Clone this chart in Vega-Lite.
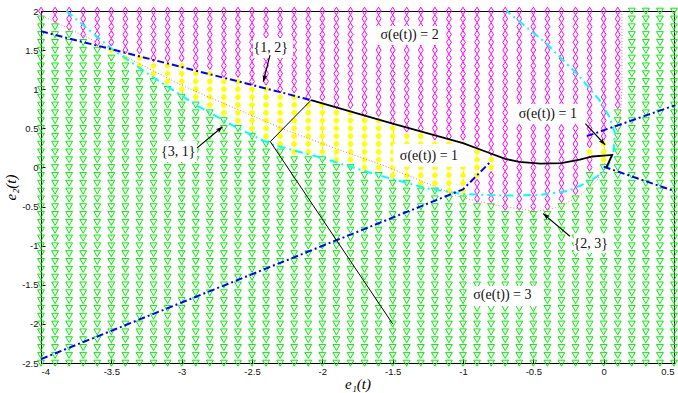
{
  "$schema": "https://vega.github.io/schema/vega-lite/v6.json",
  "width": 633,
  "height": 352,
  "autosize": {"type": "none"},
  "padding": {"left": 41, "top": 11, "right": 4, "bottom": 30},
  "background": "white",
  "config": {
    "view": {"stroke": "black", "strokeWidth": 1},
    "axis": {
      "domainColor": "black",
      "tickColor": "black",
      "tickSize": -4,
      "labelPadding": 7,
      "labelColor": "#111111",
      "labelFont": "Liberation Sans",
      "labelFontSize": 9.5,
      "labelOverlap": false,
      "labelExpr": "'' + datum.value",
      "grid": true,
      "gridColor": "#a0a0a0",
      "gridDash": [1, 3],
      "gridWidth": 1,
      "titleFont": "Liberation Serif",
      "titleFontSize": 15,
      "titleFontWeight": "normal",
      "titleFontStyle": "italic",
      "titleColor": "black"
    },
    "axisX": {"titleY": 25, "titleBaseline": "alphabetic"},
    "axisY": {"titlePadding": 3}
  },
  "datasets": {
    "mesh": [
      {"x": -4, "c": ["g","g","g","g","g","g","g","g","g","g", "g","g","g","g","g","g","g","g","g","g", "g","g","g","g","g","g","g","g","g","g", "g","g","g","g","g","g","g","g","g","g", "g","g","g","g","g", "m"]},
      {"x": -3.9, "c": ["g","g","g","g","g","g","g","g","g","g", "g","g","g","g","g","g","g","g","g","g", "g","g","g","g","g","g","g","g","g","g", "g","g","g","g","g","g","g","g","g","g", "g","g","g","g", "m","m"]},
      {"x": -3.8, "c": ["g","g","g","g","g","g","g","g","g","g", "g","g","g","g","g","g","g","g","g","g", "g","g","g","g","g","g","g","g","g","g", "g","g","g","g","g","g","g","g","g","g", "g","g","g", "m","m","m"]},
      {"x": -3.7, "c": ["g","g","g","g","g","g","g","g","g","g", "g","g","g","g","g","g","g","g","g","g", "g","g","g","g","g","g","g","g","g","g", "g","g","g","g","g","g","g","g","g","g", "g","g", "m","m","m","m"]},
      {"x": -3.6, "c": ["g","g","g","g","g","g","g","g","g","g", "g","g","g","g","g","g","g","g","g","g", "g","g","g","g","g","g","g","g","g","g", "g","g","g","g","g","g","g","g","g","g", "g", "m","m","m","m","m"]},
      {"x": -3.5, "c": ["g","g","g","g","g","g","g","g","g","g", "g","g","g","g","g","g","g","g","g","g", "g","g","g","g","g","g","g","g","g","g", "g","g","g","g","g","g","g","g","g","g", "y", "m","m","m","m","m"]},
      {"x": -3.4, "c": ["g","g","g","g","g","g","g","g","g","g", "g","g","g","g","g","g","g","g","g","g", "g","g","g","g","g","g","g","g","g","g", "g","g","g","g","g","g","g","g","g", "y", "m","m","m","m","m","m"]},
      {"x": -3.3, "c": ["g","g","g","g","g","g","g","g","g","g", "g","g","g","g","g","g","g","g","g","g", "g","g","g","g","g","g","g","g","g","g", "g","g","g","g","g","g","g","g", "y","y", "m","m","m","m","m","m"]},
      {"x": -3.2, "c": ["g","g","g","g","g","g","g","g","g","g", "g","g","g","g","g","g","g","g","g","g", "g","g","g","g","g","g","g","g","g","g", "g","g","g","g","g","g","g", "y","y", "m","m","m","m","m","m","m"]},
      {"x": -3.1, "c": ["g","g","g","g","g","g","g","g","g","g", "g","g","g","g","g","g","g","g","g","g", "g","g","g","g","g","g","g","g","g","g", "g","g","g","g","g","g", "y","y","y", "m","m","m","m","m","m","m"]},
      {"x": -3.0, "c": ["g","g","g","g","g","g","g","g","g","g", "g","g","g","g","g","g","g","g","g","g", "g","g","g","g","g","g","g","g","g","g", "g","g","g","g","g", "y","y","y","y", "m","m","m","m","m","m","m"]},
      {"x": -2.9, "c": ["g","g","g","g","g","g","g","g","g","g", "g","g","g","g","g","g","g","g","g","g", "g","g","g","g","g","g","g","g","g","g", "g","g","g","g", "y","y","y","y", "m","m","m","m","m","m","m","m"]},
      {"x": -2.8, "c": ["g","g","g","g","g","g","g","g","g","g", "g","g","g","g","g","g","g","g","g","g", "g","g","g","g","g","g","g","g","g","g", "g","g","g", "y","y","y","y","y", "m","m","m","m","m","m","m","m"]},
      {"x": -2.7, "c": ["g","g","g","g","g","g","g","g","g","g", "g","g","g","g","g","g","g","g","g","g", "g","g","g","g","g","g","g","g","g","g", "g","g", "y","y","y","y","y", "m","m","m","m","m","m","m","m","m"]},
      {"x": -2.6, "c": ["g","g","g","g","g","g","g","g","g","g", "g","g","g","g","g","g","g","g","g","g", "g","g","g","g","g","g","g","g","g","g", "g", "y","y","y","y","y","y", "m","m","m","m","m","m","m","m","m"]},
      {"x": -2.5, "c": ["g","g","g","g","g","g","g","g","g","g", "g","g","g","g","g","g","g","g","g","g", "g","g","g","g","g","g","g","g","g","g", "y","y","y","y","y","y", "m","m","m","m","m","m","m","m","m","m"]},
      {"x": -2.4, "c": ["g","g","g","g","g","g","g","g","g","g", "g","g","g","g","g","g","g","g","g","g", "g","g","g","g","g","g","g","g","g", "y","y","y","y","y","y","y", "m","m","m","m","m","m","m","m","m","m"]},
      {"x": -2.3, "c": ["g","g","g","g","g","g","g","g","g","g", "g","g","g","g","g","g","g","g","g","g", "g","g","g","g","g","g","g","g", "y","y","y","y","y","y","y", "m","m","m","m","m","m","m","m","m","m", "m"]},
      {"x": -2.2, "c": ["g","g","g","g","g","g","g","g","g","g", "g","g","g","g","g","g","g","g","g","g", "g","g","g","g","g","g","g", "y","y","y","y","y","y","y","y", "m","m","m","m","m","m","m","m","m","m", "m"]},
      {"x": -2.1, "c": ["g","g","g","g","g","g","g","g","g","g", "g","g","g","g","g","g","g","g","g","g", "g","g","g","g","g","g","g", "y","y","y","y","y","y","y", "m","m","m","m","m","m","m","m","m","m", "m","m"]},
      {"x": -2.0, "c": ["g","g","g","g","g","g","g","g","g","g", "g","g","g","g","g","g","g","g","g","g", "g","g","g","g","g","g","g", "y","y","y","y","y","y","y", "m","m","m","m","m","m","m","m","m","m", "m","m"]},
      {"x": -1.9, "c": ["g","g","g","g","g","g","g","g","g","g", "g","g","g","g","g","g","g","g","g","g", "g","g","g","g","g","g", "y","y","y","y","y","y","y", "m","m","m","m","m","m","m","m","m","m", "m","m","m"]},
      {"x": -1.8, "c": ["g","g","g","g","g","g","g","g","g","g", "g","g","g","g","g","g","g","g","g","g", "g","g","g","g","g","g", "y","y","y","y","y","y","y", "m","m","m","m","m","m","m","m","m","m", "m","m","m"]},
      {"x": -1.7, "c": ["g","g","g","g","g","g","g","g","g","g", "g","g","g","g","g","g","g","g","g","g", "g","g","g","g","g", "y","y","y","y","y","y","y", "m","m","m","m","m","m","m","m","m","m", "m","m","m","m"]},
      {"x": -1.6, "c": ["g","g","g","g","g","g","g","g","g","g", "g","g","g","g","g","g","g","g","g","g", "g","g","g","g","g", "y","y","y","y","y","y","y", "m","m","m","m","m","m","m","m","m","m", "m","m","m","m"]},
      {"x": -1.5, "c": ["g","g","g","g","g","g","g","g","g","g", "g","g","g","g","g","g","g","g","g","g", "g","g","g","g", "y","y","y","y","y","y","y", "m","m","m","m","m","m","m","m","m","m", "m","m","m","m","m"]},
      {"x": -1.4, "c": ["g","g","g","g","g","g","g","g","g","g", "g","g","g","g","g","g","g","g","g","g", "g","g","g","g", "y","y","y","y","y","y", "m","m","m","m","m","m","m","m","m","m", "m","m","m","m","m","m"]},
      {"x": -1.3, "c": ["g","g","g","g","g","g","g","g","g","g", "g","g","g","g","g","g","g","g","g","g", "g","g","g", "y","y","y","y","y","y","y", "m","m","m","m","m","m","m","m","m","m", "m","m","m","m","m","m"]},
      {"x": -1.2, "c": ["g","g","g","g","g","g","g","g","g","g", "g","g","g","g","g","g","g","g","g","g", "g","g","g", "y","y","y","y","y","y", "m","m","m","m","m","m","m","m","m","m", "m","m","m","m","m","m","m"]},
      {"x": -1.1, "c": ["g","g","g","g","g","g","g","g","g","g", "g","g","g","g","g","g","g","g","g","g", "g","g", "y","y","y","y","y","y","y", "m","m","m","m","m","m","m","m","m","m", "m","m","m","m","m","m","m"]},
      {"x": -1.0, "c": ["g","g","g","g","g","g","g","g","g","g", "g","g","g","g","g","g","g","g","g","g", "g","g", "y","y","y","y","y","y","y", "m","m","m","m","m","m","m","m","m","m", "m","m","m","m","m","m","m"]},
      {"x": -0.9, "c": ["g","g","g","g","g","g","g","g","g","g", "g","g","g","g","g","g","g","g","g","g", "g", "m","m","m", "y","y","y","y", "m","m","m","m","m","m","m","m","m","m", "m","m","m","m","m","m","m","m"]},
      {"x": -0.8, "c": ["g","g","g","g","g","g","g","g","g","g", "g","g","g","g","g","g","g","g","g","g", "g", "m","m","m","m", "y","y", "m","m","m","m","m","m","m","m","m","m", "m","m","m","m","m","m","m","m","m"]},
      {"x": -0.7, "c": ["g","g","g","g","g","g","g","g","g","g", "g","g","g","g","g","g","g","g","g","g", "m","m","m","m","m","m","m","m","m","m", "m","m","m","m","m","m","m","m","m","m", "m","m","m","m","m","m"]},
      {"x": -0.6, "c": ["g","g","g","g","g","g","g","g","g","g", "g","g","g","g","g","g","g","g","g","g", "m","m","m","m","m","m","m","m","m","m", "m","m","m","m","m","m","m","m","m","m", "m","m","m","m","m","m"]},
      {"x": -0.5, "c": ["g","g","g","g","g","g","g","g","g","g", "g","g","g","g","g","g","g","g","g","g", "m","m","m","m","m","m","m","m","m","m", "m","m","m","m","m","m","m","m","m","m", "m","m","m","m","m","m"]},
      {"x": -0.4, "c": ["g","g","g","g","g","g","g","g","g","g", "g","g","g","g","g","g","g","g","g","g", "m","m","m","m","m","m","m","m","m","m", "m","m","m","m","m","m","m","m","m","m", "m","m","m","m","m","m"]},
      {"x": -0.3, "c": ["g","g","g","g","g","g","g","g","g","g", "g","g","g","g","g","g","g","g","g","g", "g", "m","m","m","m","m","m","m","m","m","m", "m","m","m","m","m","m","m","m","m","m", "m","m","m","m","m"]},
      {"x": -0.2, "c": ["g","g","g","g","g","g","g","g","g","g", "g","g","g","g","g","g","g","g","g","g", "g","g", "m","m","m","m","m","m","m","m","m","m", "m","m","m","m","m","m","m","m","m","m", "m","m","m","m"]},
      {"x": -0.1, "c": ["g","g","g","g","g","g","g","g","g","g", "g","g","g","g","g","g","g","g","g","g", "g","g","g","g","g", "m","m", "y", "m","m","m","m","m","m","m","m","m","m", "m","m","m","m","m","m","m","m"]},
      {"x": 0, "c": ["g","g","g","g","g","g","g","g","g","g", "g","g","g","g","g","g","g","g","g","g", "g","g","g","g","g","g", "y","y","y", "m","m","m","m","m","m","m","m","m","m", "m","m","m","m","m","m","m"]},
      {"x": 0.1, "c": ["g","g","g","g","g","g","g","g","g","g", "g","g","g","g","g","g","g","g","g","g", "g","g","g","g","g","g","g","g","g","g", "g","g","g", "m","m","m","m","m","m","m","m","m","m", "m","m","m"]},
      {"x": 0.2, "c": ["g","g","g","g","g","g","g","g","g","g", "g","g","g","g","g","g","g","g","g","g", "g","g","g","g","g","g","g","g","g","g", "g","g","g","g","g","g","g","g","g","g", "g","g","g","g","g","g"]},
      {"x": 0.3, "c": ["g","g","g","g","g","g","g","g","g","g", "g","g","g","g","g","g","g","g","g","g", "g","g","g","g","g","g","g","g","g","g", "g","g","g","g","g","g","g","g","g","g", "g","g","g","g","g","g"]},
      {"x": 0.4, "c": ["g","g","g","g","g","g","g","g","g","g", "g","g","g","g","g","g","g","g","g","g", "g","g","g","g","g","g","g","g","g","g", "g","g","g","g","g","g","g","g","g","g", "g","g","g","g","g","g"]},
      {"x": 0.5, "c": ["g","g","g","g","g","g","g","g","g","g", "g","g","g","g","g","g","g","g","g","g", "g","g","g","g","g","g","g","g","g","g", "g","g","g","g","g","g","g","g","g","g", "g","g","g","g","g","g"]}
    ],
    "lines": [
      {"id": "b1", "k": 1, "x": -4, "y": 1.74},
      {"id": "b1", "k": 2, "x": -2.27, "y": 0.95},
      {"id": "b1", "k": 3, "x": -2.08, "y": 0.86},
      {"id": "b2", "k": 1, "x": -4, "y": -2.45},
      {"id": "b2", "k": 2, "x": -1.0, "y": -0.28},
      {"id": "b2", "k": 3, "x": -0.8, "y": 0.08},
      {"id": "b3", "k": 1, "x": -0.12, "y": 0.4},
      {"id": "b3", "k": 2, "x": 0.5, "y": 0.79},
      {"id": "b4", "k": 1, "x": 0.0, "y": 0.01},
      {"id": "b4", "k": 2, "x": 0.5, "y": -0.3},
      {"id": "c", "k": 1, "x": -3.82, "y": 2.0},
      {"id": "c", "k": 2, "x": -3.5, "y": 1.52},
      {"id": "c", "k": 3, "x": -3.2, "y": 1.15},
      {"id": "c", "k": 4, "x": -2.9, "y": 0.8},
      {"id": "c", "k": 5, "x": -2.6, "y": 0.5},
      {"id": "c", "k": 6, "x": -2.37, "y": 0.3},
      {"id": "c", "k": 7, "x": -2.0, "y": 0.12},
      {"id": "c", "k": 8, "x": -1.6, "y": -0.1},
      {"id": "c", "k": 9, "x": -1.25, "y": -0.27},
      {"id": "c", "k": 10, "x": -1.0, "y": -0.34},
      {"id": "c", "k": 11, "x": -0.7, "y": -0.36},
      {"id": "c", "k": 12, "x": -0.45, "y": -0.35},
      {"id": "c", "k": 13, "x": -0.25, "y": -0.3},
      {"id": "c", "k": 14, "x": -0.1, "y": -0.18},
      {"id": "c", "k": 15, "x": 0.02, "y": -0.03},
      {"id": "c", "k": 16, "x": 0.07, "y": 0.2},
      {"id": "c", "k": 17, "x": 0.08, "y": 0.44},
      {"id": "c", "k": 18, "x": 0.04, "y": 0.65},
      {"id": "c", "k": 19, "x": -0.03, "y": 0.86},
      {"id": "c", "k": 20, "x": -0.17, "y": 1.16},
      {"id": "c", "k": 21, "x": -0.41, "y": 1.59},
      {"id": "c", "k": 22, "x": -0.69, "y": 2.0},
      {"id": "r", "k": 1, "x": -3.97, "y": 1.92},
      {"id": "r", "k": 2, "x": -3.6, "y": 1.6},
      {"id": "r", "k": 3, "x": -3.0, "y": 1.05},
      {"id": "r", "k": 4, "x": -2.25, "y": 0.47},
      {"id": "r", "k": 5, "x": -1.87, "y": 0.22},
      {"id": "r", "k": 6, "x": -1.6, "y": 0.05},
      {"id": "r", "k": 7, "x": -1.3, "y": -0.17},
      {"id": "r", "k": 8, "x": -1.02, "y": -0.38},
      {"id": "r", "k": 9, "x": -0.8, "y": -0.47},
      {"id": "r", "k": 10, "x": -0.6, "y": -0.53},
      {"id": "r", "k": 11, "x": -0.47, "y": -0.56},
      {"id": "r", "k": 12, "x": -0.3, "y": -0.5},
      {"id": "r", "k": 13, "x": -0.15, "y": -0.33},
      {"id": "r", "k": 14, "x": -0.05, "y": -0.17},
      {"id": "r", "k": 15, "x": 0.05, "y": 0.1},
      {"id": "r", "k": 16, "x": 0.1, "y": 0.4},
      {"id": "r", "k": 17, "x": 0.12, "y": 0.7},
      {"id": "r", "k": 18, "x": 0.13, "y": 1.0},
      {"id": "r", "k": 19, "x": 0.13, "y": 2.0},
      {"id": "k1", "k": 1, "x": -1.5, "y": -2.0},
      {"id": "k1", "k": 2, "x": -2.37, "y": 0.33},
      {"id": "k1", "k": 3, "x": -2.08, "y": 0.86},
      {"id": "k2", "k": 1, "x": -2.08, "y": 0.86},
      {"id": "k2", "k": 2, "x": -1.5, "y": 0.56},
      {"id": "k2", "k": 3, "x": -1.0, "y": 0.31},
      {"id": "k2", "k": 4, "x": -0.85, "y": 0.21},
      {"id": "k2", "k": 5, "x": -0.7, "y": 0.11},
      {"id": "k2", "k": 6, "x": -0.6, "y": 0.07},
      {"id": "k2", "k": 7, "x": -0.45, "y": 0.05},
      {"id": "k2", "k": 8, "x": -0.3, "y": 0.055},
      {"id": "k2", "k": 9, "x": -0.17, "y": 0.1},
      {"id": "k2", "k": 10, "x": -0.08, "y": 0.14},
      {"id": "k2", "k": 11, "x": 0.06, "y": 0.16},
      {"id": "k2", "k": 12, "x": 0.02, "y": 0.0}
    ],
    "labels": [
      {"t": "σ(e(t)) = 2", "x": -1.38, "y": 1.69, "x0": -1.633, "x1": -1.122, "y0": 1.808, "y1": 1.565},
      {"t": "{1, 2}", "x": -2.367, "y": 1.533, "x0": -2.493, "x1": -2.209, "y0": 1.655, "y1": 1.399},
      {"t": "{3, 1}", "x": -3.024, "y": 0.201, "x0": -3.154, "x1": -2.891, "y0": 0.338, "y1": 0.069},
      {"t": "σ(e(t)) = 1", "x": -1.242, "y": 0.15, "x0": -1.498, "x1": -0.979, "y0": 0.299, "y1": 0.005},
      {"t": "σ(e(t)) = 1", "x": -0.397, "y": 0.683, "x0": -0.645, "x1": -0.134, "y0": 0.811, "y1": 0.555},
      {"t": "{2, 3}", "x": -0.091, "y": -0.973, "x0": -0.212, "x1": 0.03, "y0": -0.852, "y1": -1.095},
      {"t": "σ(e(t)) = 3", "x": -0.72, "y": -1.632, "x0": -0.972, "x1": -0.468, "y0": -1.517, "y1": -1.772}
    ],
    "arrows": [
      {"x": -2.372, "y": 1.437, "x2": -2.42, "y2": 1.096, "ang": 195},
      {"x": -2.89, "y": 0.25, "x2": -2.71, "y2": 0.52, "ang": 50},
      {"x": -0.24, "y": -0.88, "x2": -0.43, "y2": -0.59, "ang": -49.6},
      {"x": -0.13, "y": 0.56, "x2": 0.01, "y2": 0.29, "ang": 136.8}
    ]
  },
  "layer": [
    {
      "data": {"name": "mesh"},
      "transform": [
        {"flatten": ["c"]},
        {"window": [{"op": "row_number", "as": "i"}], "groupby": ["x"]}
      ],
      "mark": {"type": "point", "filled": true, "size": 64, "strokeWidth": 1, "opacity": 1},
      "encoding": {
        "x": {"field": "x", "type": "quantitative", "scale": {"domain": [-4, 0.5], "nice": false, "zero": false},
          "axis": {"values": [-4, -3.5, -3, -2.5, -2, -1.5, -1, -0.5, 0, 0.5], "title": "e₁(t)", "labelOverlap": false}},
        "y": {"field": "i", "type": "quantitative", "scale": {"domain": [1, 46], "nice": false, "zero": false}, "axis": null},
        "shape": {"field": "c", "type": "nominal", "legend": null,
          "scale": {"domain": ["g", "m", "y"], "range": ["M-0.85,-0.7L0.85,-0.7L0,0.8Z", "M0,-0.95L0.6,0L0,0.95L-0.6,0Z", "M-0.6,0A0.6,0.6,0,1,0,0.6,0A0.6,0.6,0,1,0,-0.6,0Z"]}},
        "fill": {"field": "c", "type": "nominal", "legend": null,
          "scale": {"domain": ["g", "m", "y"], "range": ["transparent", "transparent", "#ffff00"]}},
        "stroke": {"field": "c", "type": "nominal", "legend": null,
          "scale": {"domain": ["g", "m", "y"], "range": ["#00ee00", "#ff00ff", "#ffff00"]}}
      }
    },
    {
      "layer": [
        {
          "data": {"name": "labels"},
          "mark": {"type": "rect", "fill": "white", "stroke": null},
          "encoding": {
            "x": {"field": "x0", "type": "quantitative", "scale": {"domain": [-4, 0.5], "nice": false, "zero": false},
              "axis": {"values": [-4, -3.5, -3, -2.5, -2, -1.5, -1, -0.5, 0, 0.5], "title": "e₁(t)", "labelOverlap": false}},
            "x2": {"field": "x1"},
            "y": {"field": "y0", "type": "quantitative", "scale": {"domain": [-2.5, 2], "nice": false, "zero": false},
              "axis": {"values": [-2.5, -2, -1.5, -1, -0.5, 0, 0.5, 1, 1.5, 2], "title": "e₂(t)", "labelOverlap": false}},
            "y2": {"field": "y1"}
          }
        },
        {
          "data": {"name": "lines"},
          "transform": [{"filter": "datum.id == 'r'"}],
          "mark": {"type": "line", "color": "#ff7070", "strokeWidth": 1, "strokeDash": [1, 2]},
          "encoding": {
            "x": {"field": "x", "type": "quantitative", "scale": {"domain": [-4, 0.5], "nice": false, "zero": false},
              "axis": {"values": [-4, -3.5, -3, -2.5, -2, -1.5, -1, -0.5, 0, 0.5], "title": "e₁(t)", "labelOverlap": false}},
            "y": {"field": "y", "type": "quantitative", "scale": {"domain": [-2.5, 2], "nice": false, "zero": false},
              "axis": {"values": [-2.5, -2, -1.5, -1, -0.5, 0, 0.5, 1, 1.5, 2], "title": "e₂(t)", "labelOverlap": false}},
            "order": {"field": "k", "type": "quantitative"}
          }
        },
        {
          "data": {"name": "lines"},
          "transform": [{"filter": "datum.id == 'c'"}],
          "mark": {"type": "line", "color": "#00ffff", "strokeWidth": 2, "strokeDash": [8, 4, 2, 4]},
          "encoding": {
            "x": {"field": "x", "type": "quantitative", "scale": {"domain": [-4, 0.5], "nice": false, "zero": false},
              "axis": {"values": [-4, -3.5, -3, -2.5, -2, -1.5, -1, -0.5, 0, 0.5], "title": "e₁(t)", "labelOverlap": false}},
            "y": {"field": "y", "type": "quantitative", "scale": {"domain": [-2.5, 2], "nice": false, "zero": false},
              "axis": {"values": [-2.5, -2, -1.5, -1, -0.5, 0, 0.5, 1, 1.5, 2], "title": "e₂(t)", "labelOverlap": false}},
            "order": {"field": "k", "type": "quantitative"}
          }
        },
        {
          "data": {"name": "lines"},
          "transform": [{"filter": "substring(datum.id, 0, 1) == 'b'"}],
          "mark": {"type": "line", "color": "#0000ff", "strokeWidth": 2, "strokeDash": [7, 3, 2, 3]},
          "encoding": {
            "x": {"field": "x", "type": "quantitative", "scale": {"domain": [-4, 0.5], "nice": false, "zero": false},
              "axis": {"values": [-4, -3.5, -3, -2.5, -2, -1.5, -1, -0.5, 0, 0.5], "title": "e₁(t)", "labelOverlap": false}},
            "y": {"field": "y", "type": "quantitative", "scale": {"domain": [-2.5, 2], "nice": false, "zero": false},
              "axis": {"values": [-2.5, -2, -1.5, -1, -0.5, 0, 0.5, 1, 1.5, 2], "title": "e₂(t)", "labelOverlap": false}},
            "detail": {"field": "id"},
            "order": {"field": "k", "type": "quantitative"}
          }
        },
        {
          "data": {"name": "lines"},
          "transform": [{"filter": "datum.id == 'k1'"}],
          "mark": {"type": "line", "color": "black", "strokeWidth": 1},
          "encoding": {
            "x": {"field": "x", "type": "quantitative", "scale": {"domain": [-4, 0.5], "nice": false, "zero": false},
              "axis": {"values": [-4, -3.5, -3, -2.5, -2, -1.5, -1, -0.5, 0, 0.5], "title": "e₁(t)", "labelOverlap": false}},
            "y": {"field": "y", "type": "quantitative", "scale": {"domain": [-2.5, 2], "nice": false, "zero": false},
              "axis": {"values": [-2.5, -2, -1.5, -1, -0.5, 0, 0.5, 1, 1.5, 2], "title": "e₂(t)", "labelOverlap": false}},
            "order": {"field": "k", "type": "quantitative"}
          }
        },
        {
          "data": {"name": "lines"},
          "transform": [{"filter": "datum.id == 'k2'"}],
          "mark": {"type": "line", "color": "black", "strokeWidth": 1.8},
          "encoding": {
            "x": {"field": "x", "type": "quantitative", "scale": {"domain": [-4, 0.5], "nice": false, "zero": false},
              "axis": {"values": [-4, -3.5, -3, -2.5, -2, -1.5, -1, -0.5, 0, 0.5], "title": "e₁(t)", "labelOverlap": false}},
            "y": {"field": "y", "type": "quantitative", "scale": {"domain": [-2.5, 2], "nice": false, "zero": false},
              "axis": {"values": [-2.5, -2, -1.5, -1, -0.5, 0, 0.5, 1, 1.5, 2], "title": "e₂(t)", "labelOverlap": false}},
            "order": {"field": "k", "type": "quantitative"}
          }
        },
        {
          "data": {"name": "arrows"},
          "mark": {"type": "rule", "color": "black", "strokeWidth": 1.2},
          "encoding": {
            "x": {"field": "x", "type": "quantitative", "scale": {"domain": [-4, 0.5], "nice": false, "zero": false},
              "axis": {"values": [-4, -3.5, -3, -2.5, -2, -1.5, -1, -0.5, 0, 0.5], "title": "e₁(t)", "labelOverlap": false}},
            "y": {"field": "y", "type": "quantitative", "scale": {"domain": [-2.5, 2], "nice": false, "zero": false},
              "axis": {"values": [-2.5, -2, -1.5, -1, -0.5, 0, 0.5, 1, 1.5, 2], "title": "e₂(t)", "labelOverlap": false}},
            "x2": {"field": "x2"},
            "y2": {"field": "y2"}
          }
        },
        {
          "data": {"name": "arrows"},
          "mark": {"type": "point", "filled": true, "color": "black", "size": 150, "shape": "M0,0L0.4,1.1L0,0.85L-0.4,1.1Z", "opacity": 1},
          "encoding": {
            "x": {"field": "x2", "type": "quantitative", "scale": {"domain": [-4, 0.5], "nice": false, "zero": false},
              "axis": {"values": [-4, -3.5, -3, -2.5, -2, -1.5, -1, -0.5, 0, 0.5], "title": "e₁(t)", "labelOverlap": false}},
            "y": {"field": "y2", "type": "quantitative", "scale": {"domain": [-2.5, 2], "nice": false, "zero": false},
              "axis": {"values": [-2.5, -2, -1.5, -1, -0.5, 0, 0.5, 1, 1.5, 2], "title": "e₂(t)", "labelOverlap": false}},
            "angle": {"field": "ang", "type": "quantitative", "scale": null}
          }
        },
        {
          "data": {"name": "labels"},
          "mark": {"type": "text", "font": "Liberation Serif", "fontSize": 14, "color": "#111111", "align": "center", "baseline": "middle"},
          "encoding": {
            "x": {"field": "x", "type": "quantitative", "scale": {"domain": [-4, 0.5], "nice": false, "zero": false},
              "axis": {"values": [-4, -3.5, -3, -2.5, -2, -1.5, -1, -0.5, 0, 0.5], "title": "e₁(t)", "labelOverlap": false}},
            "y": {"field": "y", "type": "quantitative", "scale": {"domain": [-2.5, 2], "nice": false, "zero": false},
              "axis": {"values": [-2.5, -2, -1.5, -1, -0.5, 0, 0.5, 1, 1.5, 2], "title": "e₂(t)", "labelOverlap": false}},
            "text": {"field": "t"}
          }
        }
      ]
    }
  ],
  "resolve": {"scale": {"y": "independent"}}
}
